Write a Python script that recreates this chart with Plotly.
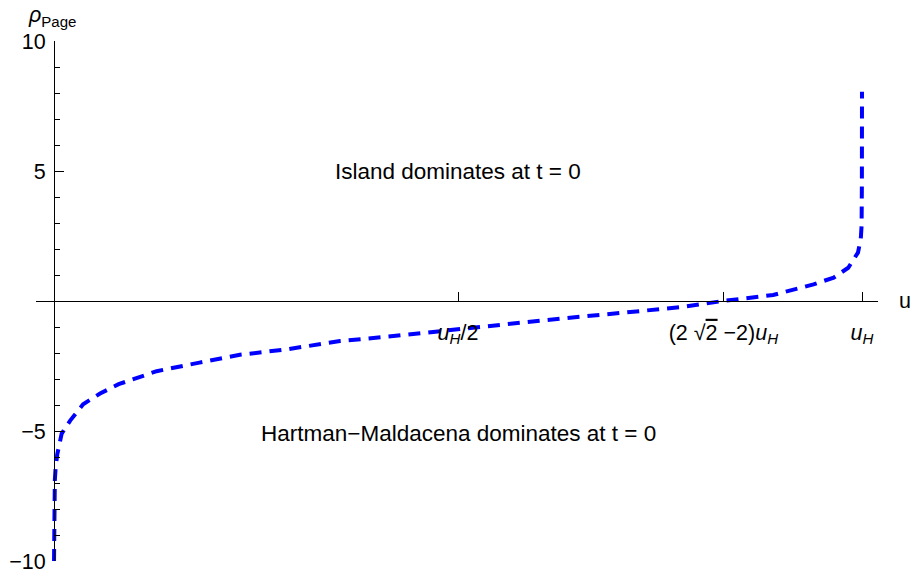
import plotly.graph_objects as go

# rho_Page as a function of u (in units of u_H)
u_vals = [0.00002, 0.0001, 0.0004, 0.001, 0.002, 0.004, 0.0095, 0.02, 0.036,
          0.057, 0.08, 0.127, 0.18, 0.23, 0.29, 0.354, 0.42, 0.486, 0.527,
          0.626, 0.709, 0.775, 0.828, 0.89, 0.94, 0.965, 0.983, 0.995,
          0.9985, 0.9995, 0.99985, 0.99996, 0.99999]
rho_vals = [-10.0, -8.6, -7.5, -6.9, -6.4, -5.9, -5.1, -4.6, -3.97,
            -3.56, -3.2, -2.7, -2.37, -2.07, -1.85, -1.54, -1.35, -1.15, -1.0,
            -0.68, -0.45, -0.24, 0.0, 0.23, 0.64, 0.9, 1.28, 1.86,
            2.4, 2.9, 4.5, 6.5, 8.05]

# axis ticks
x_tickvals = [0.5, 2 * 2 ** 0.5 - 2, 1.0]
x_ticktext = ["<i>u<sub>H</sub></i>/2",
              "(2 √<span style='text-decoration:overline'>2</span> −2)<i>u<sub>H</sub></i>",
              "<i>u<sub>H</sub></i>"]
y_tickvals = [-10, -5, 5, 10]
y_minor = [v for v in range(-10, 11) if v not in (-10, -5, 0, 5, 10)]

# region labels
region_text = ["Island dominates at t = 0", "Hartman−Maldacena dominates at t = 0"]
region_x = [0.5, 0.5]
region_y = [5.0, -5.1]

FONT = "Liberation Sans, Arial, sans-serif"
X0, X1 = -0.0223, 1.0198
Y0, Y1 = -10.0, 10.0


def px(v):
    return (v - X0) / (X1 - X0)


def py(v):
    return (v - Y0) / (Y1 - Y0)


fig = go.Figure()
fig.add_trace(go.Scatter(
    x=u_vals, y=rho_vals, mode="lines",
    line=dict(color="#0000ff", width=4, dash="12px,8px"),
    hoverinfo="skip", showlegend=False,
))

for t, x, y in zip(region_text, region_x, region_y):
    fig.add_annotation(x=x, y=y, xref="x", yref="y", text=t, showarrow=False,
                       font=dict(family=FONT, size=22.5, color="black"),
                       xanchor="center", yanchor="middle")

# axis labels (placed in paper coordinates, outside the data range)
fig.add_annotation(x=px(1.053), y=py(0.0), xref="paper", yref="paper",
                   text="u", showarrow=False,
                   font=dict(family=FONT, size=21.5, color="black"),
                   xanchor="center", yanchor="middle")
fig.add_annotation(x=px(-0.0025), y=py(10.95), xref="paper", yref="paper",
                   text="<i>ρ</i><sub>Page</sub>", showarrow=False,
                   font=dict(family=FONT, size=21.5, color="black"),
                   xanchor="center", yanchor="middle")

fig.update_layout(
    width=913, height=577,
    margin=dict(l=36, r=35, t=41, b=16, autoexpand=False),
    paper_bgcolor="white", plot_bgcolor="white",
    font=dict(family=FONT, size=21.5, color="black"),
    xaxis=dict(
        range=[X0, X1], anchor="free", position=py(0.0), automargin=False,
        showgrid=False, zeroline=False,
        showline=True, linecolor="black", linewidth=1,
        ticks="inside", ticklen=9, tickcolor="black", tickwidth=1,
        tickmode="array", tickvals=x_tickvals, ticktext=x_ticktext,
        ticklabelstandoff=12,
        tickfont=dict(family=FONT, size=21.5, color="black"),
    ),
    yaxis=dict(
        range=[Y0, Y1], anchor="free", position=px(0.0), automargin=False,
        showgrid=False, zeroline=False,
        showline=True, linecolor="black", linewidth=1,
        ticks="inside", ticklen=9, tickcolor="black", tickwidth=1,
        tickmode="array", tickvals=y_tickvals,
        ticklabelstandoff=4,
        tickfont=dict(family=FONT, size=21.5, color="black"),
        minor=dict(tickmode="array", tickvals=y_minor, ticks="inside",
                   ticklen=5, tickcolor="black", tickwidth=1),
    ),
)

fig.write_html("out.html")
